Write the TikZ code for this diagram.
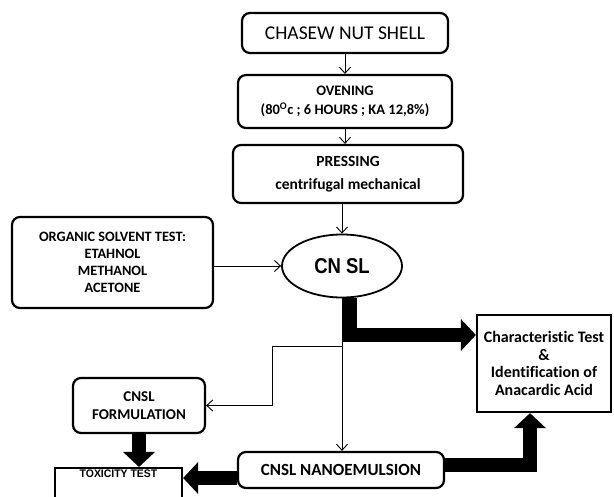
\documentclass[tikz,border=0pt]{standalone}
\usepackage{fontspec}
\setmainfont{Carlito}[Ligatures=NoCommon]
\newfontfamily\narrowfont{Liberation Sans}
\usetikzlibrary{shapes.geometric, arrows.meta, positioning}

\begin{document}
\begin{tikzpicture}[x=1pt, y=-1pt,
        box/.style   = {draw, line width=2.2pt, rounded corners=8pt, align=center, inner sep=2pt},
        plain/.style = {draw, line width=2.2pt, align=center, inner sep=2pt},
        thin/.style  = {line width=0.9pt, -{Straight Barb[length=6pt,width=11pt]}},
        fat/.style   = {line width=14.5pt, -{Triangle[length=15pt,width=31pt]}}]
        \useasboundingbox (0,0) rectangle (614,497);
        \clip (0,0) rectangle (614,497);

        % main chain
        \node[box, minimum width=206pt, minimum height=40pt, font=\fontsize{19.5}{22}\selectfont] (shell) at (345,33) {CHASEW NUT SHELL};
        \node[box, minimum width=214pt, minimum height=53pt, font=\fontsize{14.5}{19}\selectfont\bfseries] (oven) at (345,101.5)
            {OVENING\\(80\textsuperscript{O}c ; 6 HOURS ; KA 12,8\%)};
        \node[box, minimum width=230pt, minimum height=58pt, font=\fontsize{15.5}{23}\selectfont\bfseries] (press) at (348,174)
            {PRESSING\\centrifugal mechanical};
        \node[draw, ellipse, line width=1.8pt, minimum width=120pt, minimum height=63pt, inner sep=0pt,
            font=\narrowfont\fontsize{21.5}{24}\selectfont\bfseries] (cnsl) at (342,266) {\scalebox{0.86}[1]{CN SL}};

        % side boxes
        \node[box, minimum width=201pt, minimum height=91pt, font=\fontsize{14.3}{17}\selectfont\bfseries] (solvent) at (112.5,262.5)
            {ORGANIC SOLVENT TEST:\\ETAHNOL\\METHANOL\\ACETONE};
        \node[plain, minimum width=134pt, minimum height=97pt, font=\fontsize{16}{17.5}\selectfont\bfseries] (charact) at (544,363.5)
            {Characteristic Test\\\&\\Identification of\\Anacardic Acid};
        \node[box, minimum width=132pt, minimum height=55pt, font=\fontsize{15}{18}\selectfont\bfseries] (form) at (139,405.5)
            {CNSL\\FORMULATION};
        \node[box, minimum width=206pt, minimum height=36pt, font=\fontsize{17}{20}\selectfont\bfseries] (nano) at (341,470)
            {CNSL NANOEMULSION};
        \node[plain, anchor=north, minimum width=127pt, text height=8pt, text depth=30pt, inner ysep=1.5pt,
            font=\narrowfont\fontsize{11}{13}\selectfont\bfseries] (tox) at (118.5,467) {\scalebox{0.95}[1]{TOXICITY TEST}};

        \coordinate (split) at (342,346);
        \coordinate (bend1) at (350,335);
        \coordinate (bend2) at (530,465);

        % thin connectors
        \draw[thin] (shell.south) -- (oven.north);
        \draw[thin] (oven.south) -- (oven.south |- press.north);
        \draw[thin] (cnsl.north |- press.south) -- (cnsl.north);
        \draw[thin] (solvent.east |- cnsl.west) -- (cnsl.west);
        \draw[thin] (cnsl.south) -- (cnsl.south |- nano.north);
        \draw[thin] (split) -- ++(-70,0) |- (form.east);

        % thick arrows
        \draw[fat] ([xshift=8pt]cnsl.south) -- (bend1) -- (charact.west |- bend1);
        \draw[fat] (nano.east |- bend2) -- (bend2) -- (bend2 |- charact.south);
        \draw[fat] (form.south) -- (form.south |- tox.north);
        \draw[fat] (nano.west |- 0,478) -- (tox.east |- 0,478);
\end{tikzpicture}
\end{document}
